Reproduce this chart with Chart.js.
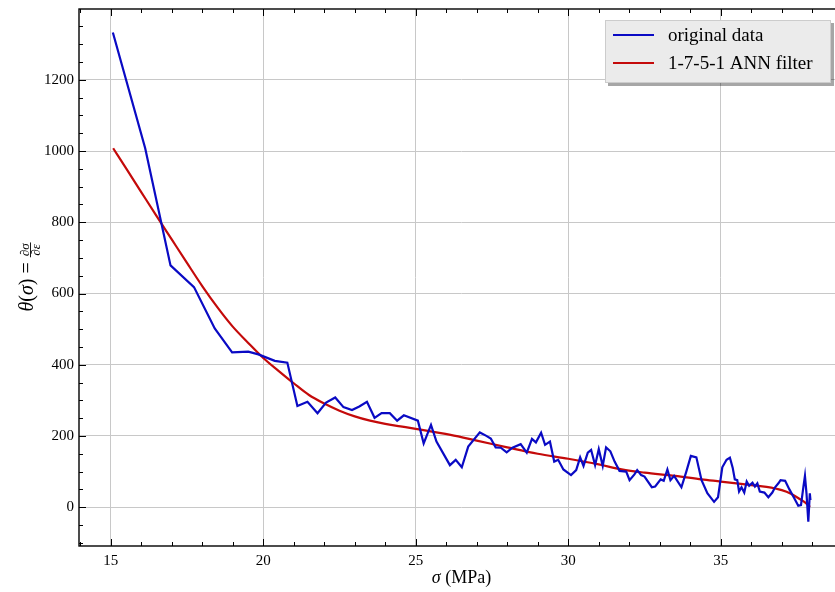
<!DOCTYPE html>
<html>
<head>
<meta charset="utf-8">
<script src="https://cdn.jsdelivr.net/npm/chart.js@4"></script>
<style>
    html, body { margin: 0; padding: 0; background: #fff; overflow: hidden; }
    #contenedor { width: 850px; height: 592px; }
</style>
</head>
<body>
<div id="contenedor"><canvas id="myChart"></canvas></div>
<script>

// datos originales (sigma en MPa, theta)
const sigmaOriginal = [15.07, 16.13, 16.96, 17.73, 18.41, 18.98, 19.51, 19.84, 20.38, 20.79,
    21.12, 21.45, 21.78, 22.06, 22.36, 22.63, 22.91, 23.15, 23.40, 23.65,
    23.88, 24.15, 24.39, 24.61, 25.07, 25.26, 25.50, 25.68, 26.12, 26.31,
    26.51, 26.72, 27.10, 27.30, 27.46, 27.62, 27.79, 27.98, 28.17, 28.44,
    28.64, 28.81, 28.94, 29.11, 29.24, 29.40, 29.54, 29.67, 29.84, 30.09,
    30.26, 30.39, 30.50, 30.64, 30.75, 30.88, 31.00, 31.13, 31.24, 31.38,
    31.52, 31.68, 31.90, 32.01, 32.17, 32.26, 32.39, 32.50, 32.74, 32.85,
    33.03, 33.13, 33.25, 33.35, 33.47, 33.71, 33.87, 34.02, 34.20, 34.37,
    34.56, 34.78, 34.91, 35.05, 35.19, 35.30, 35.39, 35.46, 35.54, 35.60,
    35.68, 35.77, 35.85, 35.93, 36.04, 36.12, 36.20, 36.28, 36.43, 36.56,
    36.69, 36.78, 36.89, 36.96, 37.11, 37.25, 37.41, 37.54, 37.63, 37.71,
    37.76, 37.81, 37.87, 37.92, 37.94];
const thetaOriginal = [1333, 1008, 679, 618, 502, 435, 437, 429, 411, 406,
    284, 296, 264, 294, 308, 281, 273, 283, 296, 251,
    264, 264, 243, 258, 243, 179, 231, 184, 118, 133,
    112, 170, 210, 201, 193, 168, 167, 154, 167, 177,
    153, 192, 182, 209, 175, 184, 128, 133, 106, 90,
    104, 140, 116, 153, 161, 118, 163, 116, 168, 157,
    128, 102, 100, 76, 92, 104, 90, 86, 56, 58,
    78, 74, 106, 76, 88, 56, 100, 144, 140, 76,
    39, 15, 28, 112, 133, 139, 111, 78, 76, 44,
    56, 41, 72, 60, 69, 58, 67, 44, 41, 28,
    41, 56, 67, 76, 74, 50, 25, 4, 6, 58,
    88, 39, -41, 39, 20];

// filtro ANN 1-7-5-1
const sigmaFiltro = [15.08, 15.5, 16.0, 16.5, 17.0, 17.5, 18.0, 18.5, 19.0, 19.5,
    20.0, 20.5, 21.0, 21.5, 22.0, 22.5, 23.0, 23.5, 24.0, 24.5,
    25.0, 26.14, 27.0, 28.0, 29.0, 30.0, 31.0, 31.75, 32.5, 33.5,
    34.37, 35.0, 36.0, 36.5, 37.0, 37.3, 37.55, 37.75, 37.93];
const thetaFiltro = [1008, 952, 885, 818, 752, 686, 621, 561, 507, 462,
    419, 383, 348, 315, 291, 271, 255, 243, 234, 227,
    220, 203, 187, 168, 150, 136, 120, 106, 97, 88,
    78, 72, 62, 57, 48, 38, 25, 14, 1];

const etiquetas = ['original data', '1-7-5-1 ANN filter'];
const colores = ['#0a0ac4', '#c40a0a'];

const fuente = 'Liberation Serif';

// marcas menores hacia adentro, marco, titulos y leyenda
const marcas = {
    id: 'marcas',
    afterDatasetsDraw(chart) {
        const { ctx, chartArea: a, scales: { x, y } } = chart;
        ctx.save();
        ctx.strokeStyle = '#000';
        ctx.lineWidth = 1;
        for (let v = 14; v <= 39; v++) {
            const px = Math.round(x.getPixelForValue(v)) + 0.5;
            const largo = v % 5 === 0 ? 7 : 4;
            ctx.beginPath();
            ctx.moveTo(px, a.bottom); ctx.lineTo(px, a.bottom - largo);
            ctx.moveTo(px, a.top); ctx.lineTo(px, a.top + largo);
            ctx.stroke();
        }
        for (let v = -100; v <= 1350; v += 50) {
            const py = Math.round(y.getPixelForValue(v)) + 0.5;
            const largo = v % 200 === 0 ? 7 : 4;
            ctx.beginPath();
            ctx.moveTo(a.left, py); ctx.lineTo(a.left + largo, py);
            ctx.moveTo(a.right, py); ctx.lineTo(a.right - largo, py);
            ctx.stroke();
        }
        ctx.lineWidth = 1.4;
        ctx.strokeRect(a.left, a.top, a.right - a.left, a.bottom - a.top);
        ctx.restore();
    },
    afterDraw(chart) {
        const { ctx, chartArea: a } = chart;
        ctx.save();
        ctx.fillStyle = '#000';
        ctx.textBaseline = 'alphabetic';

        // titulo eje x: sigma (MPa)
        ctx.font = `italic 18px "${fuente}"`;
        const w1 = ctx.measureText('σ').width;
        ctx.font = `18px "${fuente}"`;
        const w2 = ctx.measureText(' (MPa)').width;
        let xt = (a.left + a.right) / 2 - (w1 + w2) / 2;
        ctx.font = `italic 18px "${fuente}"`;
        ctx.fillText('σ', xt, 583);
        ctx.font = `18px "${fuente}"`;
        ctx.fillText(' (MPa)', xt + w1, 583);

        // titulo eje y: theta(sigma) = dsigma/depsilon
        ctx.translate(33, 277);
        ctx.rotate(-Math.PI / 2);
        const partes = [['θ', true], ['(', false], ['σ', true], [')', false], [' = ', false]];
        let ancho = 0;
        partes.forEach(p => {
            ctx.font = `${p[1] ? 'italic ' : ''}20px "${fuente}"`;
            ancho += ctx.measureText(p[0]).width;
        });
        ctx.font = `italic 13px "${fuente}"`;
        const anchoFrac = Math.max(ctx.measureText('∂σ').width, ctx.measureText('∂ε').width) + 2;
        let cx = -(ancho + anchoFrac) / 2;
        partes.forEach(p => {
            ctx.font = `${p[1] ? 'italic ' : ''}20px "${fuente}"`;
            ctx.fillText(p[0], cx, 0);
            cx += ctx.measureText(p[0]).width;
        });
        ctx.font = `italic 13px "${fuente}"`;
        ctx.textAlign = 'center';
        ctx.fillText('∂σ', cx + anchoFrac / 2, -4.5);
        ctx.fillText('∂ε', cx + anchoFrac / 2, 7);
        ctx.fillRect(cx, -3, anchoFrac, 0.9);
        ctx.restore();

        // leyenda con sombra
        const x0 = a.right - 239;
        const y0 = a.top + 11;
        ctx.save();
        ctx.fillStyle = 'rgba(0,0,0,0.35)';
        ctx.fillRect(x0 + 3, y0 + 3, 226, 63);
        ctx.fillStyle = '#ebebeb';
        ctx.fillRect(x0, y0, 226, 63);
        ctx.strokeStyle = '#cccccc';
        ctx.lineWidth = 1;
        ctx.strokeRect(x0 + 0.5, y0 + 0.5, 225, 62);
        ctx.font = `19px "${fuente}"`;
        ctx.textBaseline = 'middle';
        etiquetas.forEach((txt, i) => {
            const yy = y0 + 15 + i * 28;
            ctx.strokeStyle = colores[i];
            ctx.lineWidth = 2;
            ctx.beginPath();
            ctx.moveTo(x0 + 8, yy); ctx.lineTo(x0 + 49, yy);
            ctx.stroke();
            ctx.fillStyle = '#000';
            ctx.fillText(txt, x0 + 63, yy + 1);
        });
        ctx.restore();
    }
};

const ctx = document.getElementById('myChart').getContext('2d');
const myChart = new Chart(ctx, {
    type: 'line',
    data: {
        datasets: [{
            label: etiquetas[0],
            data: sigmaOriginal.map((s, i) => ({ x: s, y: thetaOriginal[i] })),
            borderColor: colores[0],
            borderWidth: 2.2,
            pointRadius: 0,
            tension: 0
        }, {
            label: etiquetas[1],
            data: sigmaFiltro.map((s, i) => ({ x: s, y: thetaFiltro[i] })),
            borderColor: colores[1],
            borderWidth: 2.2,
            pointRadius: 0,
            cubicInterpolationMode: 'monotone'
        }]
    },
    options: {
        responsive: true,
        maintainAspectRatio: false,
        animation: false,
        layout: { padding: { top: 9, right: 6, left: 0, bottom: 0 } },
        plugins: { legend: { display: false }, tooltip: { enabled: false } },
        scales: {
            x: {
                type: 'linear',
                min: 13.96,
                max: 39.04,
                afterFit(s) { s.height = 46; s.paddingLeft = 0; s.paddingRight = 0; },
                border: { display: false },
                grid: { color: '#c8c8c8', lineWidth: 1, drawTicks: false },
                ticks: {
                    stepSize: 5, includeBounds: false, maxRotation: 0, padding: 6,
                    color: '#000', font: { family: fuente, size: 15 },
                    callback: (v) => v
                }
            },
            y: {
                min: -109,
                max: 1399,
                afterFit(s) { s.width = 79; s.paddingTop = 0; s.paddingBottom = 0; },
                border: { display: false },
                grid: { color: '#c8c8c8', lineWidth: 1, drawTicks: false },
                ticks: {
                    stepSize: 200, includeBounds: false, padding: 5,
                    color: '#000', font: { family: fuente, size: 15 },
                    callback: (v) => v
                }
            }
        }
    },
    plugins: [marcas]
});

</script>
</body>
</html>
